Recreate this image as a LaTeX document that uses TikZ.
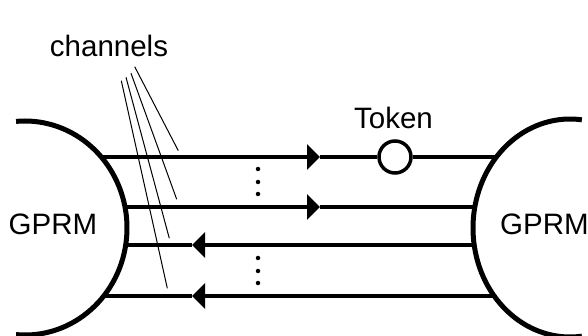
\documentclass[tikz,border=0pt]{standalone}
\usepackage{fontspec}
\setmainfont{Liberation Sans}
\usetikzlibrary{arrows.meta}
\begin{document}
\begin{tikzpicture}[x=1pt,y=-1pt,
  txt/.style={inner sep=0pt, anchor=base, font=\fontsize{29.5}{30}\selectfont},
  proc/.style={line width=5pt},
  chan/.style={line width=3.5pt},
  head/.style={-{Triangle[length=13pt,width=25pt]}},
  leader/.style={line width=1pt},
  dotmark/.style={circle, fill, inner sep=0pt, minimum size=4.5pt},
  token/.style={circle, draw, line width=3.5pt, fill=white, inner sep=0pt, minimum size=32pt}]
\useasboundingbox (0,0) rectangle (588,336);

% the two processors
\draw[proc] (25,228) ++(95:102 and 107) arc[start angle=95, end angle=-95, x radius=102, y radius=107];
\draw[proc] (570,228) ++(83:97 and 109) arc[start angle=83, end angle=277, x radius=97, y radius=109];

% channel end points on the processors
\coordinate (l1) at (101.3,157);  \coordinate (r1) at (496.4,157);
\coordinate (l2) at (125.0,207);  \coordinate (r2) at (474.8,207);
\coordinate (l3) at (125.7,245);  \coordinate (r3) at (474.2,245);
\coordinate (l4) at (103.8,296);  \coordinate (r4) at (494.2,296);
% arrow tip positions
\coordinate (a1) at (320,157);
\coordinate (a2) at (320,207);
\coordinate (a3) at (192,245);
\coordinate (a4) at (192,296);

% token travelling on the first channel
\node[token] (tok) at (395,157) {};

% channels
\draw[chan,head] (l1) -- (a1);
\draw[chan] (a1) -- (tok);
\draw[chan] (tok) -- (r1);
\draw[chan,head] (l2) -- (a2);
\draw[chan] (a2) -- (r2);
\draw[chan,head] (r3) -- (a3);
\draw[chan] (a3) -- (l3);
\draw[chan,head] (r4) -- (a4);
\draw[chan] (a4) -- (l4);

% vertical ellipses between channels
\node[dotmark] (d1) at (258,169) {};
\node[dotmark] (d2) at (258,182) {};
\node[dotmark] (d3) at (258,194) {};
\node[dotmark] (d4) at (258,258) {};
\node[dotmark] (d5) at (258,271) {};
\node[dotmark] (d6) at (258,283) {};

% labels
\node[txt] (chl) at (109,57) {channels};
\node[txt] (tokl) at (393.5,129) {Token};
\node[txt] (gl) at (53,235) {GPRM};
\node[txt, anchor=base west] (gr) at (500,235) {GPRM};

% leader lines from the channels label
\coordinate (s1) at (134.7,66.7);  \coordinate (e1) at (178.3,150.7);
\coordinate (s2) at (131.0,73.3);  \coordinate (e2) at (176.7,199.3);
\coordinate (s3) at (126.0,77.3);  \coordinate (e3) at (169.3,238.3);
\coordinate (s4) at (121.3,80.7);  \coordinate (e4) at (167.3,288.3);
\draw[leader] (s1) -- (e1);
\draw[leader] (s2) -- (e2);
\draw[leader] (s3) -- (e3);
\draw[leader] (s4) -- (e4);
\end{tikzpicture}
\end{document}
